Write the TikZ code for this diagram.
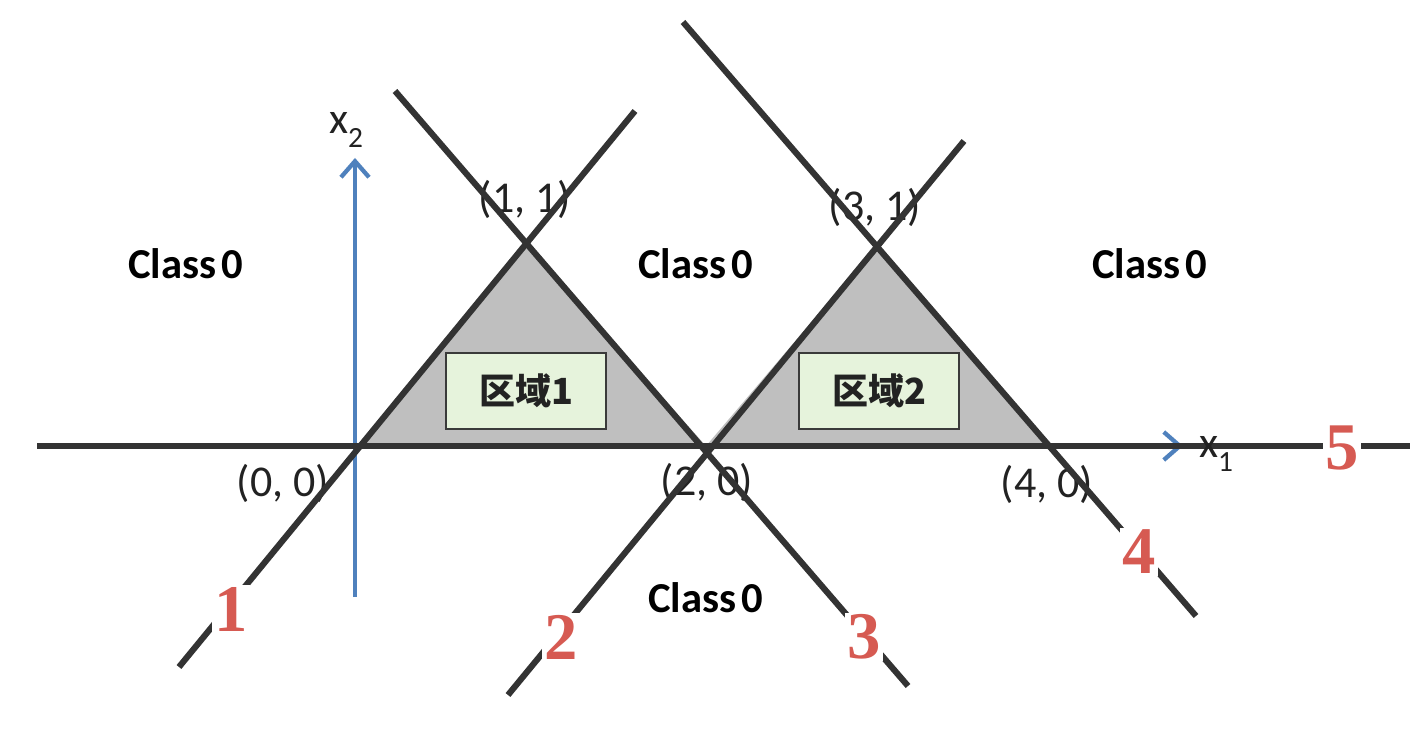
\documentclass[tikz,border=0pt]{standalone}
\usepackage{fontspec}
\setmainfont{Carlito}
\newfontfamily\cjkfont{Noto Sans CJK SC}
\newfontfamily\numfont{Liberation Serif}
\usetikzlibrary{arrows.meta}
\definecolor{lineC}{HTML}{333333}
\definecolor{axisC}{HTML}{4F81BD}
\definecolor{grayF}{HTML}{BFBFBF}
\definecolor{boxF}{HTML}{E6F3DC}
\definecolor{boxD}{HTML}{3A3A3A}
\definecolor{redC}{HTML}{D65A52}
\definecolor{textC}{HTML}{222222}
\tikzset{
  sepline/.style={draw=lineC, line width=4.6pt},
  axisline/.style={draw=axisC, line width=3.2pt, -{Straight Barb[length=12pt,width=21pt,line width=3.2pt]}},
  region/.style={fill=grayF, draw=none},
  regbox/.style={draw=boxD, fill=boxF, line width=1.3pt, minimum width=120pt, minimum height=57pt, inner sep=0pt,
     font=\cjkfont\bfseries\fontsize{27}{30}\selectfont, text=textC},
  cls/.style={font=\bfseries\fontsize{32}{38}\selectfont, text=black, inner sep=0pt},
  coordlab/.style={font=\fontsize{33}{38}\selectfont, text=textC, inner sep=0pt},
  numlab/.style={font=\numfont\bfseries\fontsize{50}{52}\selectfont, text=redC, fill=white, inner sep=1.5pt},
  axlab/.style={font=\fontsize{33}{38}\selectfont, text=textC, inner sep=0pt}
}
\begin{document}
\begin{tikzpicture}[x=0.75pt,y=-0.75pt]
\useasboundingbox[fill=white] (0,0) rectangle (1428,730);
% key points
\coordinate (P00) at (359,446);
\coordinate (P11) at (526,245);
\coordinate (P20) at (706,446);
\coordinate (P31) at (876,246);
\coordinate (P40) at (1049,446);
% line ends
\coordinate (L1a) at (179,667);  \coordinate (L1b) at (635,111);
\coordinate (L2a) at (508,695);  \coordinate (L2b) at (964,141);
\coordinate (L3a) at (395,91);   \coordinate (L3b) at (908,686);
\coordinate (L4a) at (683,22);   \coordinate (L4b) at (1196,616);
\coordinate (L5a) at (37,446);   \coordinate (L5b) at (1410,446);
% axis ends
\coordinate (Ax2a) at (355,597); \coordinate (Ax2b) at (355,158);
\coordinate (Ax1a) at (160,446); \coordinate (Ax1b) at (1183,446);
% regions
\fill[region] (P00) -- (P11) -- (P20) -- cycle;
\fill[region] (P20) -- (P31) -- (P40) -- cycle;
\node[regbox] (box1) at (526,391) {区域1};
\node[regbox] (box2) at (879,391) {区域2};
% coordinate labels
\node[coordlab] (c11) at (525,199) {(1, 1)};
\node[coordlab] (c31) at (875,207) {(3, 1)};
\node[coordlab] (c00) at (283,483) {(0, 0)};
\node[coordlab] (c20) at (707,482) {(2, 0)};
\node[coordlab] (c40) at (1047,484) {(4, 0)};
% axes
\draw[axisline] (Ax2a) -- (Ax2b);
\draw[axisline] (Ax1a) -- (Ax1b);
% separating lines
\draw[sepline] (L1a) -- (L1b);
\draw[sepline] (L2a) -- (L2b);
\draw[sepline] (L3a) -- (L3b);
\draw[sepline] (L4a) -- (L4b);
\draw[sepline] (L5a) -- (L5b);
% axis labels
\node[axlab] (x2) at (346,130) {x\raisebox{-0.3em}{\fontsize{22}{22}\selectfont 2}};
\node[axlab] (x1) at (1216,454) {x\raisebox{-0.3em}{\fontsize{22}{22}\selectfont 1}};
% class labels
\node[cls] (cA) at (186,264) {Class\hspace{-0.1em} 0};
\node[cls] (cB) at (696,264) {Class\hspace{-0.1em} 0};
\node[cls] (cC) at (1150,264) {Class\hspace{-0.1em} 0};
\node[cls] (cD) at (706,598) {Class\hspace{-0.1em} 0};
% line numbers
\node[numlab] (n1) at (231,609) {1};
\node[numlab] (n2) at (561,637) {2};
\node[numlab] (n3) at (864,637) {3};
\node[numlab] (n4) at (1139,552) {4};
\node[numlab] (n5) at (1342,448) {5};
\end{tikzpicture}
\end{document}
